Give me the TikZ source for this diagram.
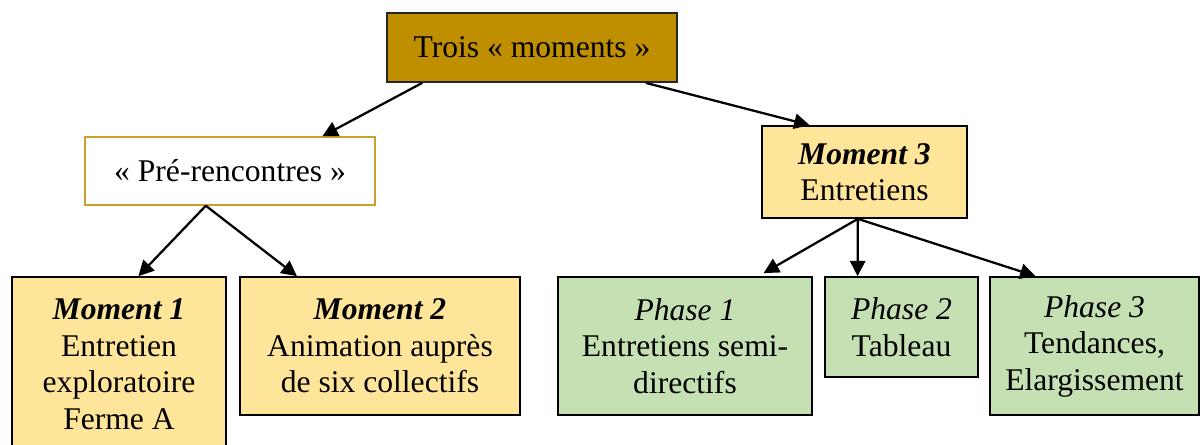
\documentclass[tikz,border=0pt]{standalone}
\usepackage{fontspec}
\setmainfont{Liberation Serif}
\usetikzlibrary{arrows.meta,calc}
\definecolor{goldDark}{HTML}{BF8F00}
\definecolor{goldLine}{HTML}{C9A02A}
\definecolor{goldLight}{HTML}{FFE599}
\definecolor{greenLight}{HTML}{C5E0B3}
\begin{document}
% one unit = one pixel of the 1202 x 445 layout (0.75pt)
\begin{tikzpicture}[x=0.75pt,y=-0.75pt,
  box/.style={draw=black,line width=1.3pt,inner sep=0pt,align=center,
    font=\fontsize{23.7}{27.4}\selectfont},
  headbox/.style={box,fill=goldDark,draw=black!85},
  openbox/.style={box,fill=white,draw=goldLine,line width=1.1pt},
  momentbox/.style={box,fill=goldLight},
  phasebox/.style={box,fill=greenLight},
  arr/.style={line width=1.7pt,-{Triangle[length=11.5pt,width=11.5pt]}}]
\useasboundingbox (0,0) rectangle (1202,445);
\clip (0,0) rectangle (1202,445);

% boxes
\node[headbox,minimum width=217.5pt,minimum height=51.75pt] (top) at (532,47.5) {Trois « moments »};
\node[openbox,minimum width=217.5pt,minimum height=51pt] (pre) at (230,171) {« Pré-rencontres »};
\node[momentbox,minimum width=153.75pt,minimum height=69pt] (m3) at (864.5,172) {\textbf{\textit{Moment 3}}\\Entretiens};
\node[momentbox,minimum width=160.5pt,minimum height=130.5pt] (m1) at (119,364) {\textbf{\textit{Moment 1}}\\Entretien\\exploratoire\\Ferme A};
\node[momentbox,minimum width=210pt,minimum height=103.5pt] (m2) at (380,346) {\textbf{\textit{Moment 2}}\\Animation auprès\\de six collectifs};
\node[phasebox,minimum width=190.5pt,minimum height=103.5pt] (p1) at (685,346) {\textit{Phase 1}\\Entretiens semi-\\directifs};
\node[phasebox,minimum width=114.75pt,minimum height=75pt] (p2) at (901.5,327) {\textit{Phase 2}\\Tableau};
\node[phasebox,minimum width=156.75pt,minimum height=103.5pt] (p3) at (1094.5,346) {\textit{Phase 3}\\Tendances,\\Elargissement};

% connectors
\draw[arr] ($(top.south west)!0.124!(top.south east)$) -- ($(pre.north west)!0.817!(pre.north east)$);
\draw[arr] ($(top.south west)!0.89!(top.south east)$) -- ($(m3.north west)!0.234!(m3.north east)$);
\coordinate (preout) at ($(pre.south west)!0.417!(pre.south east)$);
\draw[arr] (preout) -- ($(m1.north west)!0.59!(m1.north east)$);
\draw[arr] (preout) -- ($(m2.north west)!0.205!(m2.north east)$);
\coordinate (m3out) at ($(m3.south west)!0.468!(m3.south east)$);
\draw[arr,shorten >=4.5pt] (m3out) -- ($(p1.north west)!0.787!(p1.north east)$);
\draw[arr] (m3out) -- ($(p2.north west)!0.216!(p2.north east)$);
\draw[arr] (m3out) -- ($(p3.north west)!0.22!(p3.north east)$);
\end{tikzpicture}
\end{document}
